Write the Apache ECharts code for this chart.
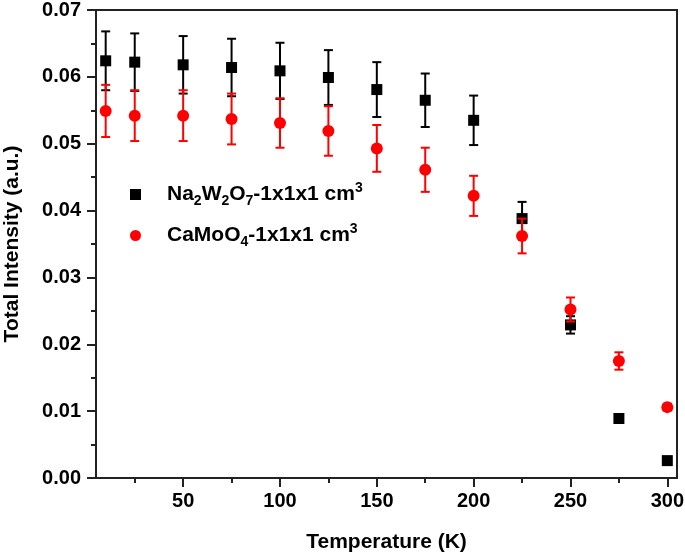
<!DOCTYPE html>
<html><head><meta charset="utf-8">
<script src="https://cdn.jsdelivr.net/npm/echarts@6/dist/echarts.min.js"></script>
<style>html,body{margin:0;padding:0;background:#fff}#c{width:685px;height:556px}</style>
</head><body><div id="c"></div>
<script>
const temps = [10,25,50,75,100,125,150,175,200,225,250,275,300];
const naVals = [0.0624,0.0622,0.0618,0.0614,0.0609,0.0599,0.0581,0.0565,0.0535,0.0388,0.0229,0.0089,0.0026];
const naErr  = [0.0044,0.0043,0.0043,0.0043,0.0042,0.0041,0.0041,0.0040,0.0037,0.0025,0.0013,0.0004,0.0003];
const caVals = [0.0549,0.0542,0.0542,0.0537,0.0531,0.0519,0.0493,0.0461,0.0422,0.0362,0.0252,0.0175,0.0106];
const caErr  = [0.0039,0.0038,0.0038,0.0038,0.0037,0.0037,0.0035,0.0033,0.0030,0.0026,0.0018,0.0013,0.0005];
const xMajorTicks = [50,100,150,200,250,300];
const xMinorTicks = [25,75,125,175,225,275];
const naName = 'Na2W2O7-1x1x1 cm3';
const caName = 'CaMoO4-1x1x1 cm3';

const FONT = '"Liberation Sans", Arial, sans-serif';
const chart = echarts.init(document.getElementById('c'), null, {renderer:'canvas'});

function errData(vals, errs){ return temps.map((t,i)=>[t, vals[i]-errs[i], vals[i]+errs[i]]); }
function errSeries(name, vals, errs, color, z){
  return {
    type:'custom', name:name, xAxisIndex:0, yAxisIndex:0, silent:true,
    data: errData(vals, errs),
    renderItem: function(params, api){
      const x = api.value(0);
      const lo = api.coord([x, api.value(1)]);
      const hi = api.coord([x, api.value(2)]);
      const hw = 4.5;
      const st = {stroke:color, lineWidth:2};
      return {type:'group', children:[
        {type:'line', shape:{x1:lo[0],y1:lo[1],x2:hi[0],y2:hi[1]}, style:st},
        {type:'line', shape:{x1:lo[0]-hw,y1:lo[1],x2:lo[0]+hw,y2:lo[1]}, style:st},
        {type:'line', shape:{x1:hi[0]-hw,y1:hi[1],x2:hi[0]+hw,y2:hi[1]}, style:st}
      ]};
    },
    z: z
  };
}

const option = {
  animation:false,
  backgroundColor:'#fff',
  textStyle:{fontFamily:FONT},
  grid:{left:96, right:8, top:10, bottom:78, containLabel:false, outerBoundsMode:'none',
        show:true, borderColor:'#222', borderWidth:2, backgroundColor:'transparent'},
  legend:{
    orient:'vertical', left:125, top:176, itemGap:14, itemWidth:11, itemHeight:11,
    data:[{name:naName, icon:'rect'},{name:caName, icon:'circle'}],
    formatter: function(n){
      if(n===naName) return '{sp|}{n|Na}{sub|2}{n|W}{sub|2}{n|O}{sub|7}{n|-1x1x1 cm}{sup|3}';
      return '{sp|}{n|CaMoO}{sub|4}{n|-1x1x1 cm}{sup|3}';
    },
    textStyle:{
      fontFamily:FONT, fontWeight:'bold', fontSize:21, color:'#000',
      rich:{
        sp:{width:21, lineHeight:27},
        n:{fontFamily:FONT, fontWeight:'bold', fontSize:21, color:'#000', lineHeight:27},
        sub:{fontFamily:FONT, fontWeight:'bold', fontSize:14, color:'#000', lineHeight:27, padding:[13,0,0,0]},
        sup:{fontFamily:FONT, fontWeight:'bold', fontSize:14, color:'#000', lineHeight:27, padding:[0,0,12,0]}
      }
    }
  },
  xAxis:[{
    type:'value', min:5, max:305, position:'bottom',
    name:'Temperature (K)', nameLocation:'middle', nameGap:54,
    nameTextStyle:{fontFamily:FONT, fontWeight:'bold', fontSize:21, color:'#000'},
    axisLine:{show:true, onZero:false, lineStyle:{color:'#222', width:2}},
    axisTick:{show:true, inside:false, length:9, lineStyle:{color:'#222', width:2}, customValues:xMajorTicks},
    axisLabel:{show:true, margin:13, fontFamily:FONT, fontWeight:'bold', fontSize:20, color:'#000', customValues:xMajorTicks},
    splitLine:{show:false}
  },{
    type:'value', min:5, max:305, position:'bottom', gridIndex:0,
    axisLine:{show:false, onZero:false},
    axisTick:{show:true, inside:false, length:5, lineStyle:{color:'#222', width:2}, customValues:xMinorTicks},
    axisLabel:{show:false, customValues:xMinorTicks},
    splitLine:{show:false}
  }],
  yAxis:{
    type:'value', min:0, max:0.07, interval:0.01,
    name:'Total Intensity (a.u.)', nameLocation:'middle', nameGap:73,
    nameTextStyle:{fontFamily:FONT, fontWeight:'bold', fontSize:21, color:'#000'},
    axisLine:{show:true, onZero:false, lineStyle:{color:'#222', width:2}},
    axisTick:{show:true, inside:false, length:9, lineStyle:{color:'#222', width:2}},
    minorTick:{show:true, splitNumber:2, length:5, lineStyle:{color:'#222', width:2}},
    axisLabel:{margin:15, fontFamily:FONT, fontWeight:'bold', fontSize:20, color:'#000', formatter:v=>v.toFixed(2)},
    splitLine:{show:false}, minorSplitLine:{show:false}
  },
  series:[
    errSeries('naErr', naVals, naErr, '#000', 2),
    {type:'scatter', name:naName, symbol:'rect', symbolSize:11, itemStyle:{color:'#000', opacity:1},
     data: temps.map((t,i)=>[t, naVals[i]]), z:3},
    errSeries('caErr', caVals, caErr, '#ff0000', 4),
    {type:'scatter', name:caName, symbol:'circle', symbolSize:12, itemStyle:{color:'#ff0000', opacity:1},
     data: temps.map((t,i)=>[t, caVals[i]]), z:5}
  ]
};
chart.setOption(option);
</script>
</body></html>
